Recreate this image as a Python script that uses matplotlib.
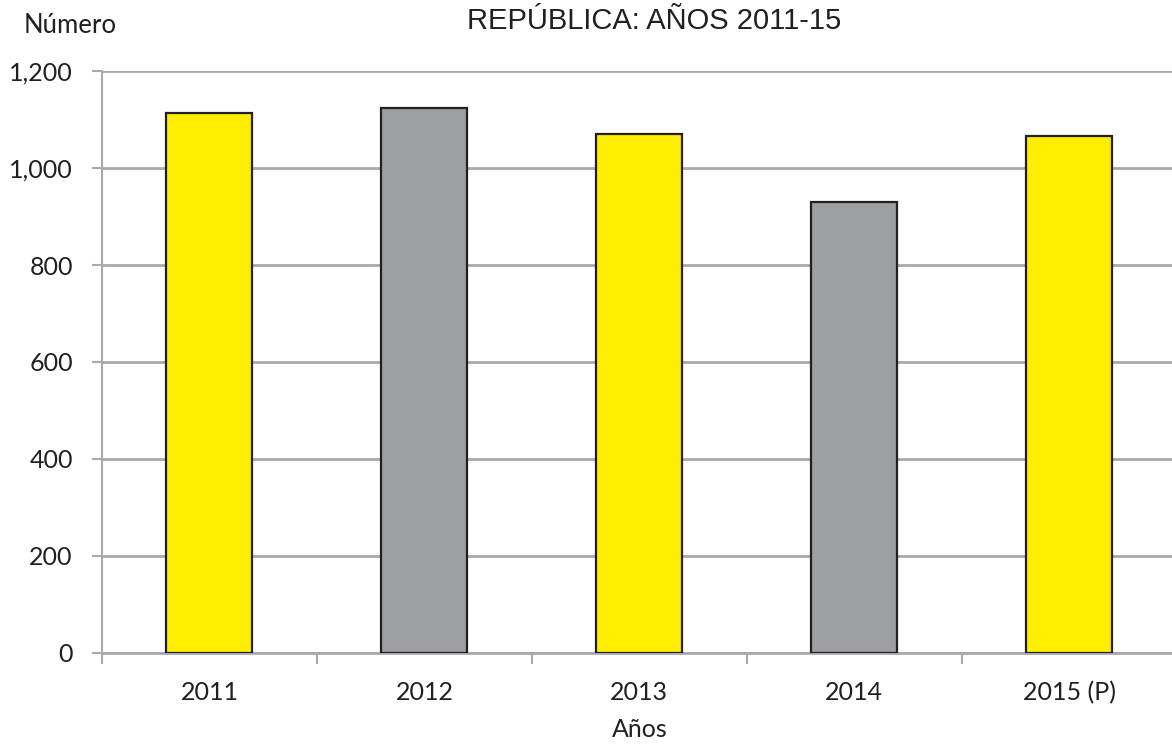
import matplotlib.pyplot as plt
from matplotlib.ticker import FuncFormatter

years = ['2011', '2012', '2013', '2014', '2015 (P)']
values = [1113, 1123, 1070, 930, 1065]
bar_colors = ['#FFED00', '#9D9FA2', '#FFED00', '#9D9FA2', '#FFED00']

fig = plt.figure(figsize=(11.72, 7.46), dpi=100)
# plot area runs slightly past the right edge, as in the source
ax = fig.add_axes([0.087, 0.1247, 0.917, 0.7801])

x = range(len(years))
ax.bar(x, values, width=0.4, color=bar_colors, edgecolor='#231F20', linewidth=1.6, zorder=3)

ax.set_xlim(-0.5, len(years) - 0.5)
ax.set_ylim(0, 1200)
ax.set_yticks(range(0, 1201, 200))
ax.yaxis.set_major_formatter(FuncFormatter(lambda v, p: '{:,.0f}'.format(v)))
ax.set_xticks(list(x))
ax.set_xticklabels(years)
ax.set_xticks([i - 0.5 for i in range(len(years) + 1)], minor=True)

grid_col = '#A7A9AC'
ax.grid(axis='y', color=grid_col, linewidth=2, zorder=0)
for s in ['top', 'right']:
    ax.spines[s].set_visible(False)
ax.spines['left'].set_color(grid_col)
ax.spines['bottom'].set_color(grid_col)
ax.spines['left'].set_linewidth(1.5)
ax.spines['bottom'].set_linewidth(2)

ax.tick_params(axis='y', length=7, width=1.5, color=grid_col, labelsize=18, pad=14, labelcolor='#231F20')
ax.tick_params(axis='x', which='major', length=0, labelsize=18, pad=20, labelcolor='#231F20')
ax.tick_params(axis='x', which='minor', length=8, width=1.5, color=grid_col)
for lbl in ax.get_xticklabels() + ax.get_yticklabels():
    lbl.set_fontfamily('Lato')

ax.set_xlabel('Años', fontsize=18, family='Lato', color='#231F20', labelpad=10)
fig.text(0.02, 0.966, 'Número', fontsize=18.5, family='Lato', color='#231F20', va='center')
fig.text(0.558, 0.972, 'REPÚBLICA: AÑOS 2011-15', fontsize=21, family='Liberation Sans',
         color='#231F20', ha='center', va='center')

fig.savefig('out.png', dpi=100)
